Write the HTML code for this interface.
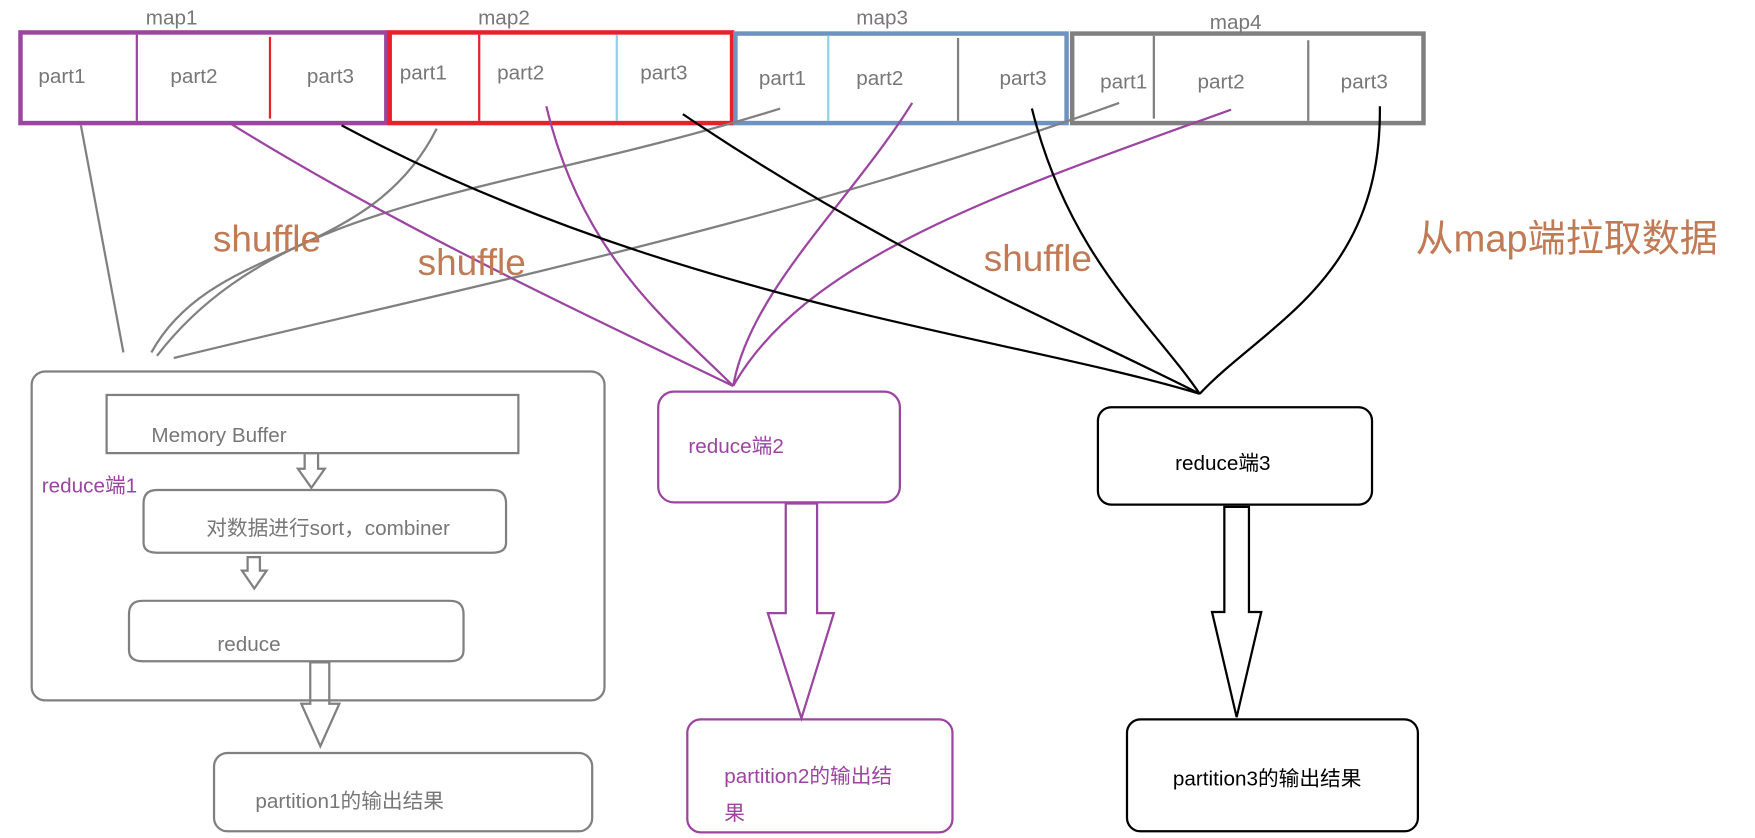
<!DOCTYPE html>
<html><head><meta charset="utf-8"><style>
html,body{margin:0;padding:0;background:#fff;}
svg{display:block;}
text{font-family:"Liberation Sans","Noto Sans CJK SC",sans-serif;}
</style></head><body>
<svg width="1755" height="838" viewBox="0 0 1568 749" xmlns="http://www.w3.org/2000/svg">
<g fill="none">
<rect x="18" y="29" width="327" height="81" stroke="#9b45a0" stroke-width="4"/>
<line x1="122" y1="31" x2="122" y2="108" stroke="#9b45a0" stroke-width="2"/>
<line x1="241" y1="33" x2="241" y2="106" stroke="#e8202a" stroke-width="2"/>
<rect x="348" y="29" width="306" height="81" stroke="#e8202a" stroke-width="4"/>
<line x1="428" y1="31" x2="428" y2="108" stroke="#e8202a" stroke-width="2"/>
<line x1="551" y1="31" x2="551" y2="108" stroke="#8fd3e8" stroke-width="2"/>
<rect x="657" y="30" width="296" height="80" stroke="#6f93c0" stroke-width="4"/>
<line x1="740" y1="32" x2="740" y2="108" stroke="#8fd3e8" stroke-width="2"/>
<line x1="856" y1="34" x2="856" y2="108" stroke="#808080" stroke-width="2"/>
<rect x="958" y="30" width="314" height="80" stroke="#808080" stroke-width="4"/>
<line x1="1031" y1="32" x2="1031" y2="106" stroke="#808080" stroke-width="2"/>
<line x1="1169" y1="36" x2="1169" y2="108" stroke="#808080" stroke-width="2"/>

<g stroke="#808080" stroke-width="2">
<path d="M72,112 L110,315"/>
<path d="M390,115 C330,235 190,215 135,315"/>
<path d="M697,97 C450,175 250,175 140,318"/>
<path d="M1000,92 C700,200 400,260 155,320"/>
</g>
<g stroke="#9b45a0" stroke-width="2">
<path d="M205,110 C350,200 500,270 655,345"/>
<path d="M488,95 C520,230 600,290 655,345"/>
<path d="M815,92 C760,180 670,260 655,345"/>
<path d="M1100,98 C900,170 720,230 655,345"/>
</g>
<g stroke="#000" stroke-width="2">
<path d="M305,112 C600,270 900,300 1072,352"/>
<path d="M610,102 C800,230 950,290 1072,352"/>
<path d="M922,97 C955,230 1030,290 1072,352"/>
<path d="M1233,95 C1235,250 1130,290 1072,352"/>
</g>

<rect x="28" y="332" width="512" height="294" rx="12" stroke="#808080" stroke-width="2"/>
<rect x="95" y="353" width="368" height="52" stroke="#808080" stroke-width="2"/>
<path d="M272,405 h12 v14 h6 l-12,17 l-12,-17 h6 z" stroke="#808080" stroke-width="2"/>
<path d="M140,438 H440 Q452,438 452,450 V485 Q452,494 440,494 H140 Q128,494 128,485 V450 Q128,438 140,438 Z" stroke="#808080" stroke-width="2"/>
<path d="M221,498 h11 v12 h6 l-11,16 l-11,-16 h5 z" stroke="#808080" stroke-width="2"/>
<path d="M127,537 H402 Q414,537 414,549 V581 Q414,591 402,591 H127 Q115,591 115,581 V549 Q115,537 127,537 Z" stroke="#808080" stroke-width="2"/>
<path d="M277,592 h17 v37 h9 l-17,38 l-17,-38 h8 z" stroke="#808080" stroke-width="2"/>
<rect x="191" y="673" width="338" height="70" rx="12" stroke="#808080" stroke-width="2"/>

<rect x="588" y="350" width="216" height="99" rx="14" stroke="#9b45a0" stroke-width="2"/>
<path d="M702,450 h28 v98 h15 l-29,94 l-30,-94 h16 z" stroke="#9b45a0" stroke-width="2"/>
<rect x="614" y="643" width="237" height="101" rx="12" stroke="#9b45a0" stroke-width="2"/>

<rect x="981" y="364" width="245" height="87" rx="12" stroke="#000" stroke-width="2"/>
<path d="M1094,453 h22 v94 h11 l-22,94 l-22,-94 h11 z" stroke="#000" stroke-width="2"/>
<rect x="1007" y="643" width="260" height="100" rx="12" stroke="#000" stroke-width="2"/>
</g>

<g fill="#777" font-size="18.5">
<text x="130" y="22">map1</text>
<text x="427" y="22">map2</text>
<text x="765" y="22">map3</text>
<text x="1081" y="26">map4</text>
<text x="34" y="74">part1</text><text x="152" y="74">part2</text><text x="274" y="74">part3</text>
<text x="357" y="71">part1</text><text x="444" y="71">part2</text><text x="572" y="71">part3</text>
<text x="678" y="76">part1</text><text x="765" y="76">part2</text><text x="893" y="76">part3</text>
<text x="983" y="79">part1</text><text x="1070" y="79">part2</text><text x="1198" y="79">part3</text>
<text x="135" y="395">Memory Buffer</text>
<text x="184" y="478">对数据进行sort，combiner</text>
<text x="194" y="582">reduce</text>
<text x="228" y="722">partition1的输出结果</text>
</g>
<g fill="#9b45a0" font-size="18.5">
<text x="37" y="440">reduce端1</text>
<text x="615" y="405">reduce端2</text>
<text x="647" y="700">partition2的输出结</text>
<text x="647" y="733">果</text>
</g>
<g fill="#000" font-size="18.5">
<text x="1050" y="420">reduce端3</text>
<text x="1048" y="702">partition3的输出结果</text>
</g>
<g fill="#c07a55" font-size="33">
<text x="190" y="225">shuffle</text>
<text x="373" y="246">shuffle</text>
<text x="879" y="242">shuffle</text>
<text x="1265" y="225" font-size="34">从map端拉取数据</text>
</g>
</svg>
</body></html>
